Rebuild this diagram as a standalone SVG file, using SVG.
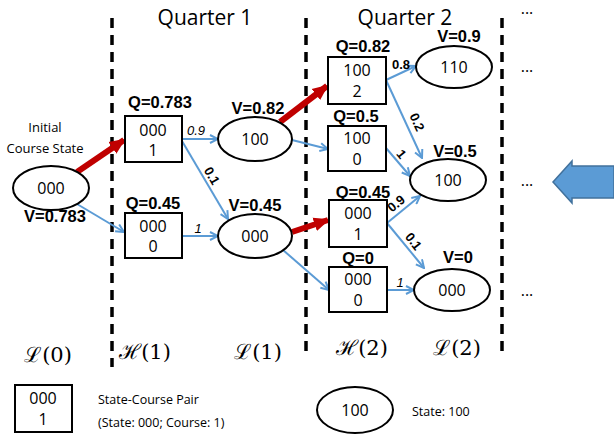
<svg xmlns="http://www.w3.org/2000/svg" width="614" height="438" viewBox="0 0 614 438">
<style>
text{font-family:"Open Sans","Liberation Sans",sans-serif;fill:#000}
.n{font-size:16px;text-anchor:middle}
.b{font-family:"Liberation Sans",sans-serif;font-weight:bold;font-size:16.5px;text-anchor:middle}
.p{font-family:"Liberation Sans",sans-serif;font-size:13px;text-anchor:middle}
.pb{font-weight:bold}
.pi{font-style:italic}
.box{fill:#fff;stroke:#000;stroke-width:2}
.dash{stroke:#000;stroke-width:3.5;stroke-dasharray:10,7}
.blue{stroke:#5b9bd5;stroke-width:2;fill:none;marker-end:url(#ab)}
.red{stroke:#c00000;stroke-width:6;fill:none;marker-end:url(#ar)}
.m{font-family:"DejaVu Serif",serif;font-size:21px;text-anchor:middle}
</style>
<defs>
<marker id="ab" markerWidth="10" markerHeight="10" refX="9" refY="5" orient="auto" markerUnits="userSpaceOnUse"><path d="M1,1 L9,5 L1,9" fill="none" stroke="#5b9bd5" stroke-width="2"/></marker>
<marker id="ar" markerWidth="16" markerHeight="16" refX="14" refY="8" orient="auto" markerUnits="userSpaceOnUse"><path d="M0,1 L16,8 L0,15 Z" fill="#c00000"/></marker>
</defs>
<g id="grid">
<line class="dash" x1="112" y1="18" x2="112" y2="367"/>
<line class="dash" x1="306" y1="18" x2="306" y2="355"/>
<line class="dash" x1="502" y1="18" x2="502" y2="355"/>
<text x="205" y="25" style="font-size:21px" text-anchor="middle">Quarter 1</text>
<text x="405" y="25" style="font-size:21px" text-anchor="middle">Quarter 2</text>
<text x="527" y="14" class="n">...</text>
<text x="527" y="72" class="n">...</text>
<text x="527" y="186" class="n">...</text>
<text x="527" y="296" class="n">...</text>
<text x="48" y="362" class="m">ℒ(0)</text>
<text x="145" y="359" class="m">ℋ(1)</text>
<text x="258" y="359" class="m">ℒ(1)</text>
<text x="362" y="355" class="m">ℋ(2)</text>
<text x="457" y="355" class="m">ℒ(2)</text>
<path d="M614,166 L572,166 L572,161 L553,182 L572,203 L572,198 L614,198 Z" fill="#5b9bd5" stroke="#41719c" stroke-width="1.5"/>
</g>
<g id="connectors">
<line class="red" x1="77" y1="172" x2="124" y2="140"/>
<line class="red" x1="280" y1="122" x2="327" y2="86"/>
<line class="red" x1="292" y1="232" x2="328" y2="220"/>
<line class="blue" x1="77" y1="204" x2="124" y2="232"/>
<line class="blue" x1="182" y1="139" x2="218" y2="139"/>
<line class="blue" x1="182" y1="141" x2="228" y2="219"/>
<line class="blue" x1="182" y1="236" x2="218" y2="236"/>
<line class="blue" x1="292" y1="140" x2="328" y2="149"/>
<line class="blue" x1="283" y1="250" x2="329" y2="290"/>
<line class="blue" x1="386" y1="80" x2="416" y2="66"/>
<line class="blue" x1="386" y1="80" x2="422" y2="158"/>
<line class="blue" x1="386" y1="148" x2="410" y2="176"/>
<line class="blue" x1="387" y1="223" x2="420" y2="196"/>
<line class="blue" x1="387" y1="223" x2="424" y2="268"/>
<line class="blue" x1="387" y1="290" x2="414" y2="290"/>
<text x="196" y="135" class="p pi">0.9</text>
<text transform="translate(208,178) rotate(60)" class="p pb">0.1</text>
<text x="198" y="233" class="p pi">1</text>
<text x="401" y="69" class="p pb">0.8</text>
<text transform="translate(413,124) rotate(65)" class="p pb">0.2</text>
<text transform="translate(398,157) rotate(50)" class="p pb">1</text>
<text transform="translate(399,207) rotate(-40)" class="p pb">0.9</text>
<text transform="translate(410,244) rotate(52)" class="p pb">0.1</text>
<text x="400" y="287" class="p pi">1</text>
</g>
<g id="s0"><ellipse cx="51" cy="188" rx="38" ry="22" class="box"/><text x="51" y="194" class="n">000</text>
<text x="45" y="132" class="n" style="font-size:13px">Initial</text><text x="45" y="153" class="n" style="font-size:13px">Course State</text><text x="55" y="222" class="b">V=0.783</text></g>
<g id="h1a"><rect x="125" y="116" width="57" height="46" class="box"/><text x="153" y="136" class="n">000</text><text x="153" y="156" class="n">1</text><text x="160" y="108" class="b">Q=0.783</text></g>
<g id="h1b"><rect x="125" y="213" width="57" height="45" class="box"/><text x="153" y="232" class="n">000</text><text x="153" y="252" class="n">0</text><text x="153" y="209" class="b">Q=0.45</text></g>
<g id="l1a"><ellipse cx="255" cy="139" rx="37" ry="22" class="box"/><text x="255" y="145" class="n">100</text><text x="258" y="114" class="b">V=0.82</text></g>
<g id="l1b"><ellipse cx="255" cy="236" rx="37" ry="22" class="box"/><text x="255" y="242" class="n">000</text><text x="255" y="211" class="b">V=0.45</text></g>
<g id="h2a"><rect x="328" y="57" width="58" height="47" class="box"/><text x="357" y="76" class="n">100</text><text x="357" y="97" class="n">2</text><text x="363" y="52" class="b">Q=0.82</text></g>
<g id="h2b"><rect x="328" y="126" width="58" height="45" class="box"/><text x="357" y="144" class="n">100</text><text x="357" y="165" class="n">0</text><text x="356" y="122" class="b">Q=0.5</text></g>
<g id="h2c"><rect x="329" y="200" width="58" height="47" class="box"/><text x="358" y="219" class="n">000</text><text x="358" y="240" class="n">1</text><text x="363" y="198" class="b">Q=0.45</text></g>
<g id="h2d"><rect x="329" y="267" width="58" height="45" class="box"/><text x="358" y="285" class="n">000</text><text x="358" y="306" class="n">0</text><text x="358" y="264" class="b">Q=0</text></g>
<g id="l2a"><ellipse cx="454" cy="67" rx="38" ry="21" class="box"/><text x="454" y="73" class="n">110</text><text x="459" y="42" class="b">V=0.9</text></g>
<g id="l2b"><ellipse cx="448" cy="180" rx="38" ry="21" class="box"/><text x="448" y="186" class="n">100</text><text x="455" y="157" class="b">V=0.5</text></g>
<g id="l2c"><ellipse cx="452" cy="290" rx="38" ry="21" class="box"/><text x="452" y="296" class="n">000</text><text x="458" y="263" class="b">V=0</text></g>
<g id="legend">
<rect x="15" y="385" width="57" height="47" class="box"/><text x="43" y="404" class="n">000</text><text x="43" y="425" class="n">1</text>
<text x="98" y="404" style="font-size:12.5px">State-Course Pair</text><text x="98" y="427" style="font-size:12.5px">(State: 000; Course: 1)</text>
<ellipse cx="355" cy="410" rx="38" ry="23" class="box"/><text x="355" y="416" class="n">100</text>
<text x="412" y="416" style="font-size:12.5px">State: 100</text>
</g>
</svg>
